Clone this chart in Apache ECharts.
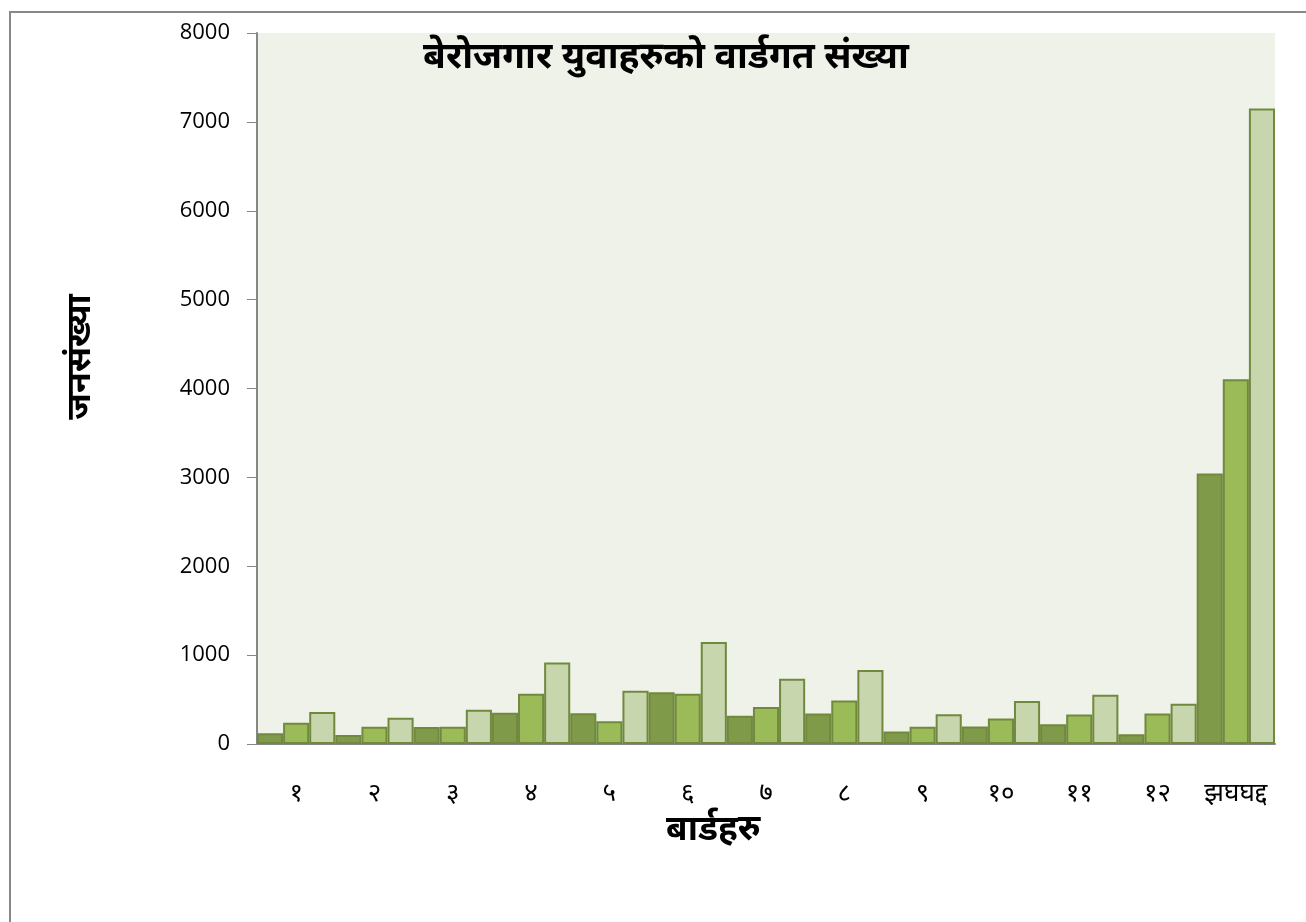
<!DOCTYPE html>
<html>
<head>
<meta charset="utf-8">
<script src="https://cdn.jsdelivr.net/npm/echarts@6/dist/echarts.min.js"></script>
<style>
    html, body { margin: 0; padding: 0; background: #fff; }
    #chart { width: 1306px; height: 922px; }
</style>
</head>
<body>
<div id="chart"></div>
<script>
// ward-wise unemployed youth
var wards = ['१', '२', '३', '४', '५', '६', '७', '८', '९', '१०', '११', '१२', 'झघघद्द'];
var seriesA = [120, 100, 190, 352, 345, 581, 318, 343, 141, 197, 223, 110, 3045];
var seriesB = [240, 195, 195, 566, 255, 566, 416, 489, 193, 287, 332, 344, 4105];
var seriesTotal = [360, 295, 385, 918, 600, 1147, 734, 832, 334, 484, 555, 454, 7150];
var yTicks = [0, 8000, 1000];

var chart = echarts.init(document.getElementById('chart'));
var deva = '"Noto Sans", "Noto Sans Devanagari", sans-serif';
var border = '#71893f';

function barSeries(name, data, fill) {
    return {
        name: name,
        type: 'bar',
        data: data,
        barGap: '0%',
        barCategoryGap: '0%',
        itemStyle: {
            color: fill,
            borderColor: border,
            borderWidth: 2
        }
    };
}

var option = {
    animation: false,
    title: [{
        text: 'बेरोजगार युवाहरुको वार्डगत संख्या',
        left: 418,
        top: 34,
        textStyle: {
            fontFamily: deva,
            fontSize: 37,
            fontWeight: 'bold',
            color: '#000'
        }
    }, {
        // x axis name sits left of the plot centre in the original
        text: 'बार्डहरु',
        left: 661,
        top: 808,
        textStyle: {
            fontFamily: deva,
            fontSize: 35,
            fontWeight: 'bold',
            color: '#000'
        }
    }],
    graphic: [{
        type: 'rect',
        shape: {x: 10, y: 12, width: 1400, height: 1000},
        style: {fill: 'none', stroke: '#888', lineWidth: 2},
        z: -1
    }, {
        type: 'text',
        x: 80,
        y: 357,
        rotation: Math.PI / 2,
        style: {
            text: 'जनसंख्या',
            font: 'bold 34px ' + deva,
            fill: '#000',
            align: 'center',
            verticalAlign: 'middle'
        }
    }],
    grid: {
        left: 257,
        right: 31,
        top: 33,
        bottom: 178,
        show: true,
        backgroundColor: '#eff2e9',
        borderWidth: 0
    },
    xAxis: {
        type: 'category',
        data: wards,
        axisLine: {lineStyle: {color: '#868686', width: 2}},
        axisTick: {show: false},
        axisLabel: {
            interval: 0,
            hideOverlap: false,
            margin: 37,
            fontFamily: deva,
            fontSize: 26,
            color: '#000'
        }
    },
    yAxis: {
        type: 'value',
        min: yTicks[0],
        max: yTicks[1],
        interval: yTicks[2],
        axisLine: {show: true, lineStyle: {color: '#868686', width: 2}},
        axisTick: {show: true, length: 10, lineStyle: {color: '#868686', width: 1}},
        splitLine: {show: false},
        axisLabel: {
            margin: 27,
            fontFamily: '"Open Sans", sans-serif',
            fontSize: 22,
            color: '#000',
            formatter: function (v) { return String(v); }
        }
    },
    series: [
        barSeries('पुरुष', seriesA, '#7f9a48'),
        barSeries('महिला', seriesB, '#9bbb59'),
        barSeries('जम्मा', seriesTotal, '#c7d6ad')
    ]
};

chart.setOption(option);
</script>
</body>
</html>
